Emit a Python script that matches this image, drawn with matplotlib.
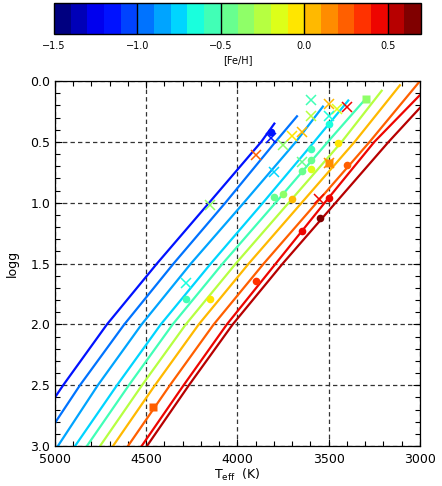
import numpy as np
import matplotlib
matplotlib.use('Agg')
import matplotlib.pyplot as plt
import matplotlib.colors as mcolors
import matplotlib.cm as cm
from matplotlib.ticker import MultipleLocator

# isochrone [Fe/H] and their (Teff, logg) tracks
iso_feh = [-1.18, -0.98, -0.85, -0.75, -0.55, -0.25, 0.05, 0.25, 0.42, 0.55]
iso_teff = [
    [5000, 4955, 4715, 4441, 4155, 3870, 3798],
    [5000, 4863, 4620, 4350, 4066, 3792, 3674],
    [4984, 4765, 4525, 4255, 3965, 3680, 3532],
    [4890, 4660, 4420, 4146, 3860, 3580, 3393],
    [4825, 4595, 4355, 4081, 3791, 3505, 3300],
    [4753, 4523, 4283, 4009, 3719, 3429, 3210],
    [4682, 4452, 4212, 3938, 3648, 3358, 3110],
    [4600, 4370, 4130, 3856, 3566, 3276, 3000],
    [4525, 4295, 4058, 3790, 3522, 3250, 3000],
    [4496, 4266, 4026, 3752, 3462, 3172, 3000],
]
iso_logg = [
    [2.60, 2.50, 2.00, 1.50, 1.00, 0.50, 0.35],
    [2.81, 2.50, 2.00, 1.50, 1.00, 0.50, 0.29],
    [3.00, 2.50, 2.00, 1.50, 1.00, 0.50, 0.21],
    [3.00, 2.50, 2.00, 1.50, 1.00, 0.50, 0.16],
    [3.00, 2.50, 2.00, 1.50, 1.00, 0.50, 0.15],
    [3.00, 2.50, 2.00, 1.50, 1.00, 0.50, 0.08],
    [3.00, 2.50, 2.00, 1.50, 1.00, 0.50, 0.035],
    [3.00, 2.50, 2.00, 1.50, 1.00, 0.50, 0.00],
    [3.00, 2.50, 2.00, 1.50, 1.00, 0.50, 0.115],
    [3.00, 2.50, 2.00, 1.50, 1.00, 0.50, 0.22],
]

# stars, circles
circ_teff = [3816, 3499, 3447, 3597, 3597, 3648, 3597, 3398, 3749, 3798,
             3699, 3499, 3548, 3648, 4284, 4151, 3899]
circ_logg = [0.42, 0.35, 0.51, 0.555, 0.65, 0.74, 0.72, 0.69, 0.93, 0.95,
             0.97, 0.96, 1.13, 1.23, 1.79, 1.79, 1.64]
circ_feh = [-1.15, -0.65, -0.08, -0.55, -0.45, -0.42, -0.18, 0.25, -0.38, -0.48,
            0.02, 0.42, 0.62, 0.42, -0.58, -0.08, 0.35]

# stars, crosses
cross_teff = [3819, 3899, 3749, 3699, 3648, 3597, 3597, 3499, 3453, 3398,
              3499, 3648, 3499, 3798, 3552, 4151, 4284]
cross_logg = [0.47, 0.61, 0.53, 0.45, 0.42, 0.16, 0.29, 0.19, 0.23, 0.21,
              0.29, 0.665, 0.67, 0.75, 0.97, 1.02, 1.66]
cross_feh = [-1.15, 0.25, -0.35, -0.05, 0.05, -0.55, -0.25, 0.02, -0.15, 0.42,
             -0.62, -0.5, 0.12, -0.75, 0.42, -0.32, -0.62]

# stars, squares
sq_teff = [3296, 4461, 3499]
sq_logg = [0.15, 2.68, 0.67]
sq_feh = [-0.38, 0.25, 0.12]

cbar_ticks = [-1.5, -1.0, -0.5, 0.0, 0.5]

cmap = plt.get_cmap('jet', 22)
norm = mcolors.Normalize(vmin=-1.5, vmax=0.7)

plt.rcParams['font.family'] = 'DejaVu Sans'
fig = plt.figure(figsize=(4.42, 4.86), dpi=100)
ax = fig.add_axes([0.1244, 0.0823, 0.8258, 0.751])
cax = fig.add_axes([0.1222, 0.930, 0.8303, 0.0638])

for teff, logg, feh in zip(iso_teff, iso_logg, iso_feh):
    ax.plot(teff, logg, '-', color=cmap(norm(feh)), lw=1.6, zorder=2)

for t, g, f in zip(circ_teff, circ_logg, circ_feh):
    ax.plot(t, g, 'o', color=cmap(norm(f)), ms=5.5, mec='none', zorder=3)
for t, g, f in zip(cross_teff, cross_logg, cross_feh):
    ax.plot(t, g, 'x', color=cmap(norm(f)), ms=6.5, mew=1.1, zorder=3)
for t, g, f in zip(sq_teff, sq_logg, sq_feh):
    ax.plot(t, g, 's', color=cmap(norm(f)), ms=5.5, mec='none', zorder=3)

ax.set_xlim(5000, 3000)
ax.set_ylim(3.0, 0.0)
ax.xaxis.set_major_locator(MultipleLocator(500))
ax.xaxis.set_minor_locator(MultipleLocator(100))
ax.yaxis.set_major_locator(MultipleLocator(0.5))
ax.yaxis.set_minor_locator(MultipleLocator(0.1))
ax.tick_params(which='both', direction='in', top=True, right=True,
               labelsize=9, width=0.8)
ax.tick_params(which='major', length=5)
ax.tick_params(which='minor', length=3.5)
ax.tick_params(axis='x', which='major', pad=5)
ax.grid(True, which='major', color='0.2', ls=(0, (3.5, 2.5)), lw=0.9)
ax.set_axisbelow(True)
for s in ax.spines.values():
    s.set_linewidth(0.9)
ax.set_xlabel(r'T$_{\mathregular{eff}}$  (K)', fontsize=9, labelpad=1)
ax.set_ylabel('logg', fontsize=9, labelpad=8)

sm = cm.ScalarMappable(norm=norm, cmap=cmap)
cb = fig.colorbar(sm, cax=cax, orientation='horizontal', ticks=cbar_ticks)
cb.ax.tick_params(length=0, labelsize=7, pad=5)
cb.set_label('[Fe/H]', fontsize=7, labelpad=3)
cb.outline.set_linewidth(1)
for v in cbar_ticks[1:]:
    cax.axvline(v, color='k', lw=1)

fig.savefig('out.png', dpi=100)
